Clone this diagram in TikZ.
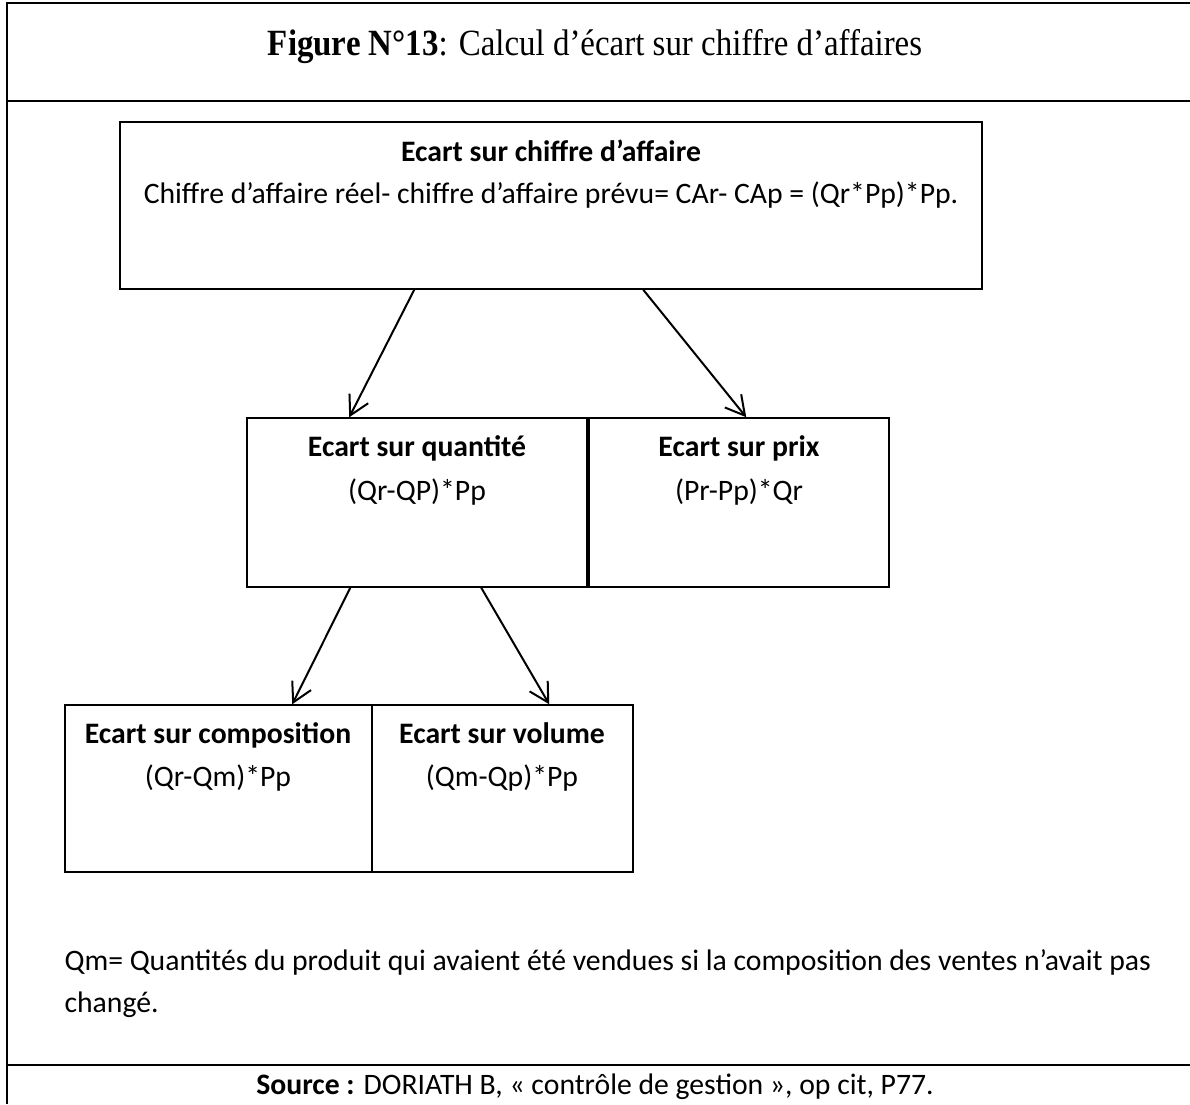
\documentclass[tikz,border=0pt]{standalone}
\usepackage{fontspec}
\setmainfont{Carlito}
\newfontfamily\timesfont{Liberation Serif}
\usetikzlibrary{arrows.meta}
\begin{document}
\begin{tikzpicture}[x=1pt,y=-1pt,
  frameline/.style={line width=1.8pt},
  box/.style={draw, line width=1.5pt, rectangle, inner sep=0pt},
  head/.style={font=\fontsize{29.7}{34}\selectfont\bfseries, anchor=base},
  formula/.style={font=\fontsize{29.7}{34}\selectfont, anchor=base},
  arr/.style={line width=2pt, -{Straight Barb[length=19pt,width=21pt,line width=2pt]}}]
\useasboundingbox (0,0) rectangle (1190,1104);
\fill[white] (0,0) rectangle (1190,1104);

% outer frame and separators
\draw[frameline] (7,1104) -- (7,3) -- (1190,3);
\draw[frameline] (7,101) -- (1190,101);
\draw[frameline] (7,1065) -- (1190,1065);

% title (narrow serif face)
\node[anchor=base, xscale=0.89, font=\timesfont\fontsize{37}{42}\selectfont] (title) at (595,55)
  {\textbf{Figure N°13}: Calcul d’écart sur chiffre d’affaires};

% boxes
\node[box, minimum width=862pt, minimum height=167pt] (top) at (551,205.5) {};
\node[box, minimum width=340pt, minimum height=169pt] (qty) at (417,502.5) {};
\node[box, minimum width=300pt, minimum height=169pt] (prix) at (739,502.5) {};
\node[box, minimum width=307pt, minimum height=167pt] (compo) at (218.5,788.5) {};
\node[box, minimum width=261pt, minimum height=167pt] (vol) at (502.5,788.5) {};

% box texts
\node[head] (topH) at (551,161) {Ecart sur chiffre d’affaire};
\node[formula] (topF) at (551,203) {Chiffre d’affaire réel- chiffre d’affaire prévu= CAr- CAp = (Qr*Pp)*Pp.};
\node[head] (qtyH) at (417,456) {Ecart sur quantité};
\node[formula] (qtyF) at (417,500) {(Qr-QP)*Pp};
\node[head] (prixH) at (739,456) {Ecart sur prix};
\node[formula] (prixF) at (739,500) {(Pr-Pp)*Qr};
\node[head] (compoH) at (218,743) {Ecart sur composition};
\node[formula] (compoF) at (218,786) {(Qr-Qm)*Pp};
\node[head] (volH) at (502,743) {Ecart sur volume};
\node[formula] (volF) at (502,786) {(Qm-Qp)*Pp};

% connectors
\draw[arr] ([xshift=295pt]top.south west) -- ([xshift=103pt]qty.north west);
\draw[arr] ([xshift=524pt]top.south west) -- ([xshift=158pt]prix.north west);
\draw[arr] ([xshift=104pt]qty.south west) -- ([xshift=228pt]compo.north west);
\draw[arr] ([xshift=235pt]qty.south west) -- ([xshift=178pt]vol.north west);

% note
\node[formula, anchor=base west] (note1) at (61,970) {Qm= Quantités du produit qui avaient été vendues si la composition des ventes n’avait pas};
\node[formula, anchor=base west] (note2) at (61,1012) {changé.};

% source
\node[formula] (src) at (595,1094) {\textbf{Source :} DORIATH B, « contrôle de gestion », op cit, P77.};
\end{tikzpicture}
\end{document}
